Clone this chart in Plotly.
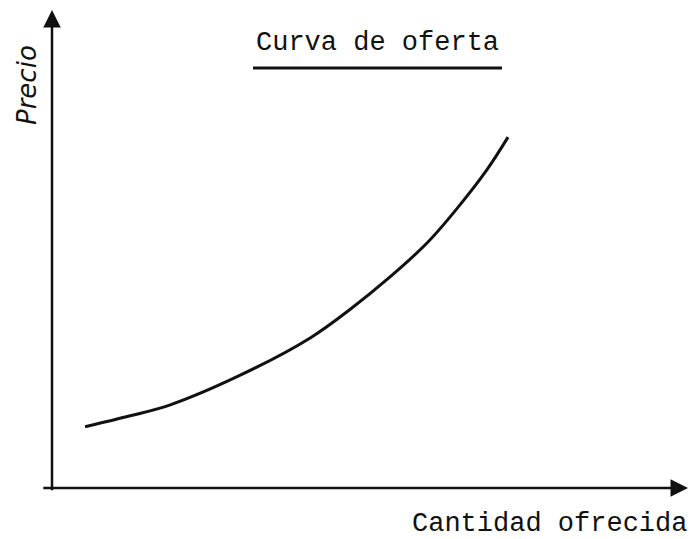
import plotly.graph_objects as go

# Supply curve values (arbitrary units)
cantidad = [5.2, 12.3, 18.6, 29.6, 40.6, 46.9, 53.1, 59.0, 63.7, 68.4, 71.7]
precio = [12.8, 15.1, 17.4, 23.6, 31.4, 37.4, 44.1, 51.3, 58.5, 66.6, 73.4]

title_text = "Curva de oferta"
x_label = "Cantidad ofrecida"
y_label = "Precio"

# plot area in pixels: x 52..688, y 10..488
def px(x):
    return (x - 52) / 636

def py(y):
    return (488 - y) / 478

fig = go.Figure()
fig.add_trace(go.Scatter(
    x=cantidad, y=precio, mode="lines",
    line=dict(color="#111111", width=3, shape="spline", smoothing=1.0),
    hoverinfo="skip", showlegend=False, cliponaxis=False,
))

ink = "#111111"
# axes with arrowheads
fig.add_annotation(x=0, y=100, ax=0, ay=-0.8, xref="x", yref="y", axref="x", ayref="y",
                   text="", showarrow=True, arrowhead=2, arrowsize=1.4, arrowwidth=2.5,
                   arrowcolor=ink)
fig.add_annotation(x=100, y=0, ax=-1.6, ay=0, xref="x", yref="y", axref="x", ayref="y",
                   text="", showarrow=True, arrowhead=2, arrowsize=1.4, arrowwidth=2.5,
                   arrowcolor=ink)

# title + underline
fig.add_annotation(x=px(377), y=py(43), xref="paper", yref="paper", text=title_text,
                   showarrow=False, xanchor="center", yanchor="middle",
                   font=dict(family="Liberation Mono", size=27, color=ink))
fig.add_shape(type="line", xref="paper", yref="paper",
              x0=px(253), x1=px(502), y0=py(68), y1=py(68),
              line=dict(color=ink, width=3))

# axis labels
fig.add_annotation(x=px(549), y=py(524), xref="paper", yref="paper", text=x_label,
                   showarrow=False, xanchor="center", yanchor="middle",
                   font=dict(family="Liberation Mono", size=27, color=ink))
fig.add_annotation(x=px(27), y=py(85), xref="paper", yref="paper", text="<i>" + y_label + "</i>",
                   showarrow=False, xanchor="center", yanchor="middle", textangle=-90,
                   font=dict(family="DejaVu Sans", size=26, color=ink))

fig.update_layout(
    width=690, height=539,
    margin=dict(l=52, r=2, t=10, b=51),
    paper_bgcolor="white", plot_bgcolor="white",
    xaxis=dict(range=[0, 100], visible=False, fixedrange=True),
    yaxis=dict(range=[0, 100], visible=False, fixedrange=True),
)

fig.write_html("out.html", config={"displayModeBar": False},
               post_script="document.body.style.margin='0';")
